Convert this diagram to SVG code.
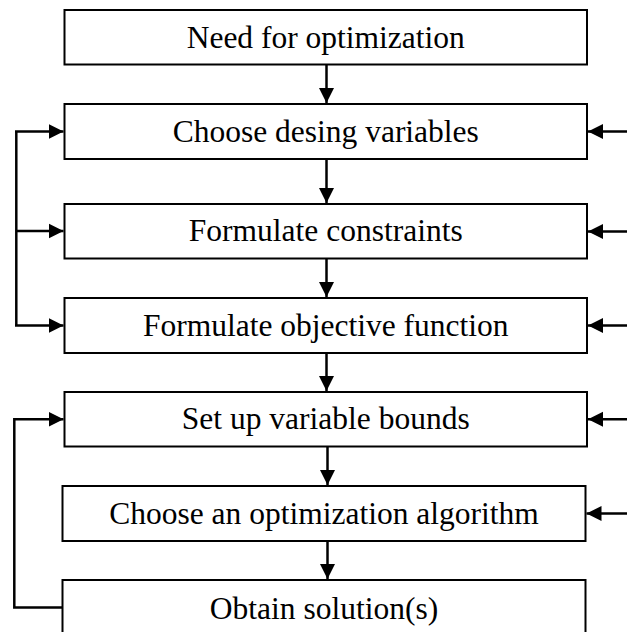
<svg xmlns="http://www.w3.org/2000/svg" width="627" height="632" viewBox="0 0 627 632">
<style>
.box{fill:#fff;stroke:#000;stroke-width:2}
.lbl{font-family:"Liberation Serif","Times New Roman",serif;font-size:31.5px;fill:#000;text-anchor:middle}
.con{fill:none;stroke:#000;stroke-width:2.5}
</style>
<defs>
<marker id="ah" markerUnits="userSpaceOnUse" markerWidth="16" markerHeight="16" viewBox="0 0 16 16" refX="15" refY="8" orient="auto">
<path d="M0,0.5 L15,8 L0,15.5 Z" fill="#000"/>
</marker>
</defs>
<rect width="627" height="632" fill="#fff"/>
<g id="connectors">
<line class="con" x1="326.5" y1="65" x2="326.5" y2="103" marker-end="url(#ah)"/>
<line class="con" x1="326.5" y1="159" x2="326.5" y2="203" marker-end="url(#ah)"/>
<line class="con" x1="326.5" y1="259" x2="326.5" y2="297" marker-end="url(#ah)"/>
<line class="con" x1="326.5" y1="353" x2="326.5" y2="391" marker-end="url(#ah)"/>
<line class="con" x1="327.5" y1="447" x2="327.5" y2="485" marker-end="url(#ah)"/>
<line class="con" x1="327.5" y1="541" x2="327.5" y2="579" marker-end="url(#ah)"/>
<polyline class="con" points="16.3,131.5 16.3,325.5"/>
<line class="con" x1="15" y1="131.5" x2="63.5" y2="131.5" marker-end="url(#ah)"/>
<line class="con" x1="16.3" y1="231" x2="63.5" y2="231" marker-end="url(#ah)"/>
<line class="con" x1="15" y1="325.5" x2="63.5" y2="325.5" marker-end="url(#ah)"/>
<polyline class="con" points="62.5,607.5 14.3,607.5 14.3,419.3 63.5,419.3" marker-end="url(#ah)"/>
<line class="con" x1="627" y1="131.5" x2="588" y2="131.5" marker-end="url(#ah)"/>
<line class="con" x1="627" y1="231.5" x2="588" y2="231.5" marker-end="url(#ah)"/>
<line class="con" x1="627" y1="325.5" x2="588" y2="325.5" marker-end="url(#ah)"/>
<line class="con" x1="627" y1="419.3" x2="588" y2="419.3" marker-end="url(#ah)"/>
<line class="con" x1="627" y1="513.5" x2="586.5" y2="513.5" marker-end="url(#ah)"/>
</g>
<g id="n1"><rect class="box" x="64.5" y="10" width="522.5" height="54.5"/><text class="lbl" x="325.75" y="47.5">Need for optimization</text></g>
<g id="n2"><rect class="box" x="64.5" y="104" width="522.5" height="55"/><text class="lbl" x="325.75" y="141.5">Choose desing variables</text></g>
<g id="n3"><rect class="box" x="64.5" y="204" width="522.5" height="54.5"/><text class="lbl" x="325.75" y="241">Formulate constraints</text></g>
<g id="n4"><rect class="box" x="64.5" y="298" width="522.5" height="55"/><text class="lbl" x="325.75" y="335.5">Formulate objective function</text></g>
<g id="n5"><rect class="box" x="64.5" y="392" width="522.5" height="54.5"/><text class="lbl" x="325.75" y="429">Set up variable bounds</text></g>
<g id="n6"><rect class="box" x="62.5" y="486" width="523" height="55"/><text class="lbl" x="324" y="523.5">Choose an optimization algorithm</text></g>
<g id="n7"><rect class="box" x="62.5" y="580" width="523" height="56"/><text class="lbl" x="324" y="618.5">Obtain solution(s)</text></g>
</svg>
